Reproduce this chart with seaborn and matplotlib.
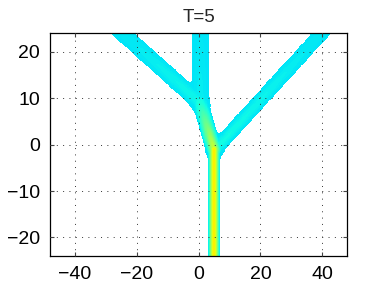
import numpy as np
import seaborn as sns
import matplotlib.pyplot as plt
from matplotlib.colors import Normalize

# ---- branch skeleton (data units) ----
# each branch: start point, end point, amplitude at start/end, half width (px) at start/end
seg_x0 = [5.0, 5.0, 5.5, 0.5, 0.5]
seg_y0 = [-26.0, -1.0, -1.0, 9.0, 9.0]
seg_x1 = [5.0, 0.5, 42.5, -28.0, 0.6]
seg_y1 = [-1.0, 9.0, 26.0, 26.0, 26.0]
amp0 = [1.0, 0.8, 0.08, 0.06, 0.03]
amp1 = [1.0, 0.12, 0.0, 0.0, 0.0]
hw0 = [6.5, 8.0, 7.2, 8.2, 8.3]
hw1 = [6.5, 8.0, 7.2, 8.0, 8.3]

title = "T=5"
xticks = [-40, -20, 0, 20, 40]
yticks = [-20, -10, 0, 10, 20]

sns.set_style("ticks")
plt.rcParams['font.family'] = ['Liberation Sans', 'DejaVu Sans']

# ---- build the field ----
x = np.linspace(-48, 48, 577)
y = np.linspace(-24, 24, 433)
X, Y = np.meshgrid(x, y)
sx, sy = 3.1, 4.63  # px per unit, distance measured on screen
px, py = X * sx, Y * sy
val = np.zeros(X.shape)
sd = np.full(X.shape, 1e9)
k = 5.0  # fillet size (px)
for i in range(len(seg_x0)):
    ax_, ay_ = seg_x0[i] * sx, seg_y0[i] * sy
    bx_, by_ = seg_x1[i] * sx, seg_y1[i] * sy
    dx, dy = bx_ - ax_, by_ - ay_
    t = np.clip(((px - ax_) * dx + (py - ay_) * dy) / (dx * dx + dy * dy), 0, 1)
    d = np.hypot(px - (ax_ + t * dx), py - (ay_ + t * dy))
    hw = hw0[i] + (hw1[i] - hw0[i]) * t
    a = amp0[i] + (amp1[i] - amp0[i]) * t
    u = np.clip(d / hw, 0, 1)
    val = np.maximum(val, a * (1 - u ** 2) ** 2)
    s = d - hw
    h = np.maximum(k - np.abs(sd - s), 0) / k
    sd = np.minimum(sd, s) - h * h * k / 4

field = np.ma.masked_where(sd >= 0, val)

fig = plt.figure(figsize=(3.84, 2.88), dpi=100)
ax = fig.add_axes([0.130, 0.111, 0.774, 0.774])
ax.pcolormesh(x, y, field, cmap="jet",
              norm=Normalize(vmin=-1.129, vmax=2.097), shading="auto")

ax.set_xlim(-48, 48)
ax.set_ylim(-24, 24)
ax.set_xticks(xticks)
ax.set_yticks(yticks)
ax.set_axisbelow(False)
ax.grid(True, color="#333333", linestyle=(0, (1, 5.5)), linewidth=0.7)
ax.tick_params(direction="in", length=3, labelsize=14, pad=7, top=True, right=True,
               color="#444444", labelcolor="black")
for s in ax.spines.values():
    s.set_color("black")
    s.set_linewidth(0.9)
ax.set_title(title, fontsize=13.5, pad=8)

fig.savefig("out.png", dpi=100)
